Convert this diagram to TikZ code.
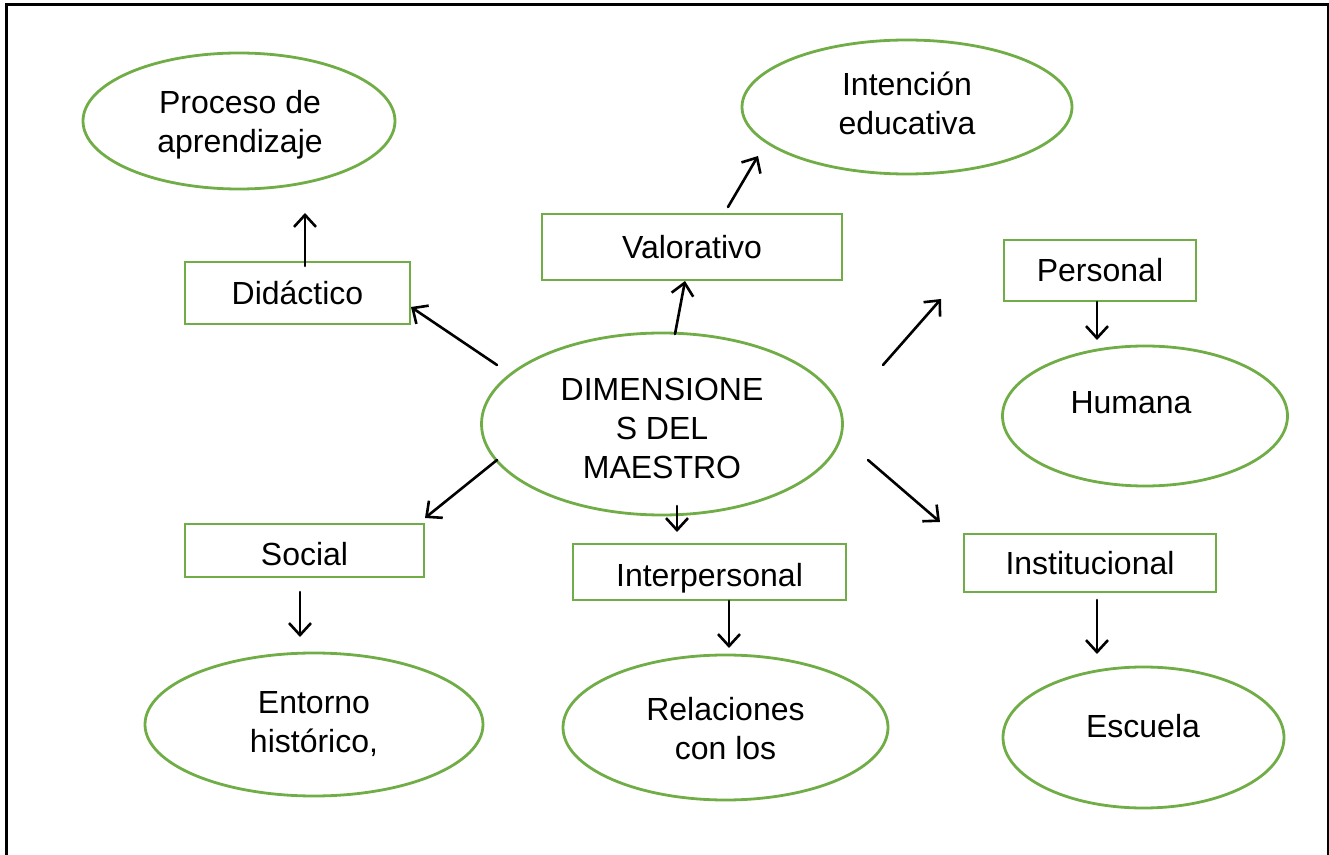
\documentclass[tikz,border=0pt]{standalone}
\usepackage{fontspec}
\setmainfont{Liberation Sans}
\usetikzlibrary{shapes.geometric,arrows.meta}
\definecolor{ogreen}{HTML}{70AD47}
\tikzset{
  oval/.style={ellipse, draw=ogreen, line width=1.4pt, inner sep=0pt},
  box/.style={rectangle, draw=ogreen, line width=1.4pt, inner sep=0pt, font=\fontsize{16}{19.5}\selectfont},
  lbl/.style={align=center, inner sep=0pt, font=\fontsize{16}{19.5}\selectfont},
  arr/.style={-{Straight Barb[length=6pt,width=11pt,line width=1.3pt]}, line width=1.3pt, line cap=round},
  frameline/.style={line width=1.5pt}
}
\begin{document}
\begin{tikzpicture}[x=0.5pt,y=-0.5pt]
\useasboundingbox (0,0) rectangle (1329,855);
\draw[frameline] (6,870) -- (6,5) -- (1328,5) -- (1328,870);

% ellipses
\node[oval, minimum width=156pt, minimum height=68pt] (proc) at (239,121) {};
\node[lbl] (procT) at (240,125) {Proceso de\\aprendizaje};
\node[oval, minimum width=165pt, minimum height=67pt] (inten) at (907,107) {};
\node[lbl] (intenT) at (907,103) {Intención\\educativa};
\node[oval, minimum width=142.5pt, minimum height=70pt] (huma) at (1145,416) {};
\node[lbl] (humaT) at (1131,403) {Humana};
\node[oval, minimum width=180.5pt, minimum height=91pt] (centro) at (662,424) {};
\node[lbl] (centroT) at (662,428.5) {DIMENSIONE\\S DEL\\MAESTRO};
\node[oval, minimum width=169pt, minimum height=71.5pt] (ento) at (314,724.5) {};
\node[lbl] (entoT) at (314,724.5) {Entorno\\histórico,};
\node[oval, minimum width=162.5pt, minimum height=72.5pt] (rela) at (725.5,727.5) {};
\node[lbl] (relaT) at (725.5,729) {Relaciones\\con los};
\node[oval, minimum width=140.5pt, minimum height=70.5pt] (escu) at (1143.5,737.5) {};
\node[lbl] (escuT) at (1143,726) {Escuela};

% boxes
\node[box, minimum width=150pt, minimum height=33pt] (valo) at (692,247) {Valorativo};
\node[box, minimum width=112.5pt, minimum height=31pt] (dida) at (297.5,293) {Didáctico};
\node[box, minimum width=96pt, minimum height=30.5pt] (pers) at (1100,270.5) {Personal};
\node[box, minimum width=119.5pt, minimum height=26.5pt, text height=14.6pt, text depth=0pt] (soci) at (304.5,550.5) {Social};
\node[box, minimum width=136.5pt, minimum height=28pt, text height=17.6pt, text depth=3.4pt] (inte) at (709.5,572) {Interpersonal};
\node[box, minimum width=126pt, minimum height=29pt] (inst) at (1090,563) {Institucional};

% arrow end points
\coordinate (a1s) at (305,266); \coordinate (a1e) at (305,213);
\coordinate (a2s) at (728,207); \coordinate (a2e) at (758,156);
\coordinate (a3s) at (675,334); \coordinate (a3e) at (685,281);
\coordinate (a4s) at (497,365); \coordinate (a4e) at (411,307);
\coordinate (a5s) at (883,365); \coordinate (a5e) at (941,299);
\coordinate (a6s) at (1097,302); \coordinate (a6e) at (1097,340);
\coordinate (a7s) at (497,460); \coordinate (a7e) at (425,518);
\coordinate (a8s) at (300,592); \coordinate (a8e) at (300,637);
\coordinate (a9s) at (677,506); \coordinate (a9e) at (677,532);
\coordinate (a10s) at (729,601); \coordinate (a10e) at (729,648);
\coordinate (a11s) at (868,460); \coordinate (a11e) at (940,522);
\coordinate (a12s) at (1097,600); \coordinate (a12e) at (1097,654);

\foreach \i in {1,...,12} \draw[arr] (a\i s) -- (a\i e);
\end{tikzpicture}
\end{document}
